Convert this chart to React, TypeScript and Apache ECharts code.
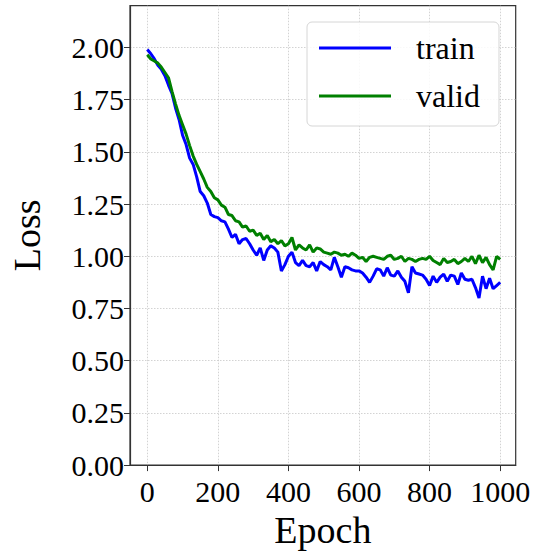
import React, { useEffect, useRef } from "react";
import * as echarts from "echarts";

const epochs: number[] = [
  0, 10, 20, 30, 40, 50, 60, 70, 80, 90, 100, 110, 120, 130, 140, 150, 160, 170, 180, 190,
  200, 210, 220, 230, 240, 250, 260, 270, 280, 290, 300, 310, 320, 330, 340, 350, 360, 370, 380, 390,
  400, 410, 420, 430, 440, 450, 460, 470, 480, 490, 500, 510, 520, 530, 540, 550, 560, 570, 580, 590,
  600, 610, 620, 630, 640, 650, 660, 670, 680, 690, 700, 710, 720, 730, 740, 750, 760, 770, 780, 790,
  800, 810, 820, 830, 840, 850, 860, 870, 880, 890, 900, 910, 920, 930, 940, 950, 960, 970, 980, 990, 1000,
];

const trainLoss: number[] = [
  1.99, 1.97, 1.945, 1.915, 1.895, 1.865, 1.82, 1.78, 1.71, 1.655,
  1.58, 1.535, 1.47, 1.44, 1.38, 1.31, 1.29, 1.255, 1.2, 1.19,
  1.185, 1.17, 1.165, 1.13, 1.09, 1.105, 1.06, 1.08, 1.085, 1.06,
  1.03, 1.005, 1.04, 0.98, 1.03, 1.05, 1.04, 1.02, 0.93, 0.96,
  1.0, 1.02, 0.97, 0.955, 0.98, 0.955, 0.95, 0.97, 0.93, 0.975,
  0.96, 0.95, 0.935, 0.995, 0.95, 0.9, 0.95, 0.945, 0.935, 0.93,
  0.93, 0.92, 0.9, 0.875, 0.905, 0.94, 0.935, 0.905, 0.945, 0.91,
  0.905, 0.93, 0.9, 0.88, 0.825, 0.95, 0.92, 0.915, 0.91, 0.89,
  0.86, 0.905, 0.875, 0.9, 0.915, 0.88, 0.91, 0.905, 0.865, 0.92,
  0.89, 0.885, 0.89, 0.85, 0.8, 0.905, 0.845, 0.895, 0.845, 0.86, 0.875,
];

const validLoss: number[] = [
  1.965, 1.945, 1.935, 1.925, 1.905, 1.88, 1.855, 1.79, 1.73, 1.675,
  1.63, 1.585, 1.53, 1.48, 1.44, 1.405, 1.37, 1.33, 1.31, 1.28,
  1.27, 1.245, 1.235, 1.2, 1.195, 1.17, 1.165, 1.14, 1.145, 1.12,
  1.125, 1.1, 1.11, 1.08, 1.1, 1.07, 1.08, 1.06, 1.075, 1.05,
  1.06, 1.09, 1.03, 1.055, 1.04, 1.03, 1.055, 1.02, 1.04, 1.035,
  1.02, 1.015, 1.01, 1.02, 1.015, 1.005, 1.01, 1.0, 1.015, 1.005,
  0.99, 0.995, 0.975, 0.995, 1.0, 0.995, 0.99, 0.985, 1.0, 1.005,
  0.985, 0.99, 1.0, 0.975, 0.99, 0.985, 0.975, 0.985, 0.99, 0.985,
  1.0, 0.98, 0.97, 0.96, 0.99, 0.97, 0.975, 0.985, 0.965, 0.975,
  0.99, 0.975, 1.0, 0.965, 1.005, 0.97, 0.995, 0.96, 0.935, 1.0, 0.985,
];

const xTicks: number[] = [0, 200, 400, 600, 800, 1000];
const yTicks: number[] = [0, 0.25, 0.5, 0.75, 1.0, 1.25, 1.5, 1.75, 2.0];
const seriesNames: string[] = ["train", "valid"];

const FONT = "'Liberation Serif', 'DejaVu Serif', serif";

export default function App() {
  const ref = useRef<HTMLDivElement>(null);
  useEffect(() => {
    if (!ref.current) return;
    const chart = echarts.init(ref.current, undefined, { renderer: "svg" });
    const gridLine = { show: true, lineStyle: { color: "#c8c8c8", width: 0.8, type: [1.5, 1.5] as any } };
    chart.setOption({
      animation: false,
      backgroundColor: "#ffffff",
      textStyle: { fontFamily: FONT, color: "#000" },
      grid: {
        left: 129.5,
        right: 18.3,
        top: 5.7,
        bottom: 80,
        show: true,
        borderColor: "#333333",
        borderWidth: 1.2,
        backgroundColor: "transparent",
      },
      legend: {
        data: seriesNames,
        orient: "vertical",
        left: 307,
        top: 22,
        padding: [10, 19, 14, 12],
        icon: "rect",
        itemWidth: 72,
        itemHeight: 3,
        itemGap: 16,
        borderColor: "#d6d6d6",
        borderWidth: 1,
        borderRadius: 5,
        backgroundColor: "rgba(255,255,255,0.85)",
        textStyle: { fontFamily: FONT, fontSize: 32, color: "#000", padding: [0, 0, 0, 20], lineHeight: 30 },
      },
      xAxis: {
        type: "value",
        min: -49,
        max: 1044,
        splitNumber: 5,
        minInterval: 200,
        maxInterval: 200,
        name: "Epoch",
        nameLocation: "middle",
        nameGap: 44,
        nameTextStyle: { fontFamily: FONT, fontSize: 38, color: "#000" },
        axisLine: { show: true, onZero: false, lineStyle: { color: "#333", width: 1.2 } },
        axisTick: { show: true, length: 6, customValues: xTicks, lineStyle: { color: "#333", width: 1 } },
        axisLabel: {
          customValues: xTicks,
          fontFamily: FONT,
          fontSize: 30,
          color: "#000",
          margin: 11,
          formatter: (v: number) => String(v),
        },
        splitLine: gridLine,
      },
      yAxis: {
        type: "value",
        min: 0,
        max: 2.2,
        interval: 0.25,
        name: "Loss",
        nameLocation: "middle",
        nameGap: 84,
        nameTextStyle: { fontFamily: FONT, fontSize: 38, color: "#000" },
        axisLine: { show: true, onZero: false, lineStyle: { color: "#333", width: 1.2 } },
        axisTick: { show: true, length: 6, customValues: yTicks, lineStyle: { color: "#333", width: 1 } },
        axisLabel: {
          customValues: yTicks,
          fontFamily: FONT,
          fontSize: 30,
          color: "#000",
          margin: 6,
          formatter: (v: number) => v.toFixed(2),
        },
        splitLine: gridLine,
      },
      series: [
        {
          name: seriesNames[0],
          type: "line",
          data: epochs.map((e, i) => [e, trainLoss[i]]),
          symbol: "none",
          lineStyle: { color: "#0000ff", width: 3 },
          itemStyle: { color: "#0000ff" },
          z: 3,
        },
        {
          name: seriesNames[1],
          type: "line",
          data: epochs.map((e, i) => [e, validLoss[i]]),
          symbol: "none",
          lineStyle: { color: "#008000", width: 3 },
          itemStyle: { color: "#008000" },
          z: 4,
        },
      ],
    });
    return () => chart.dispose();
  }, []);
  return (
    <div
      ref={ref}
      style={{ position: "absolute", left: 0, top: 0, width: 534, height: 554 }}
    />
  );
}
